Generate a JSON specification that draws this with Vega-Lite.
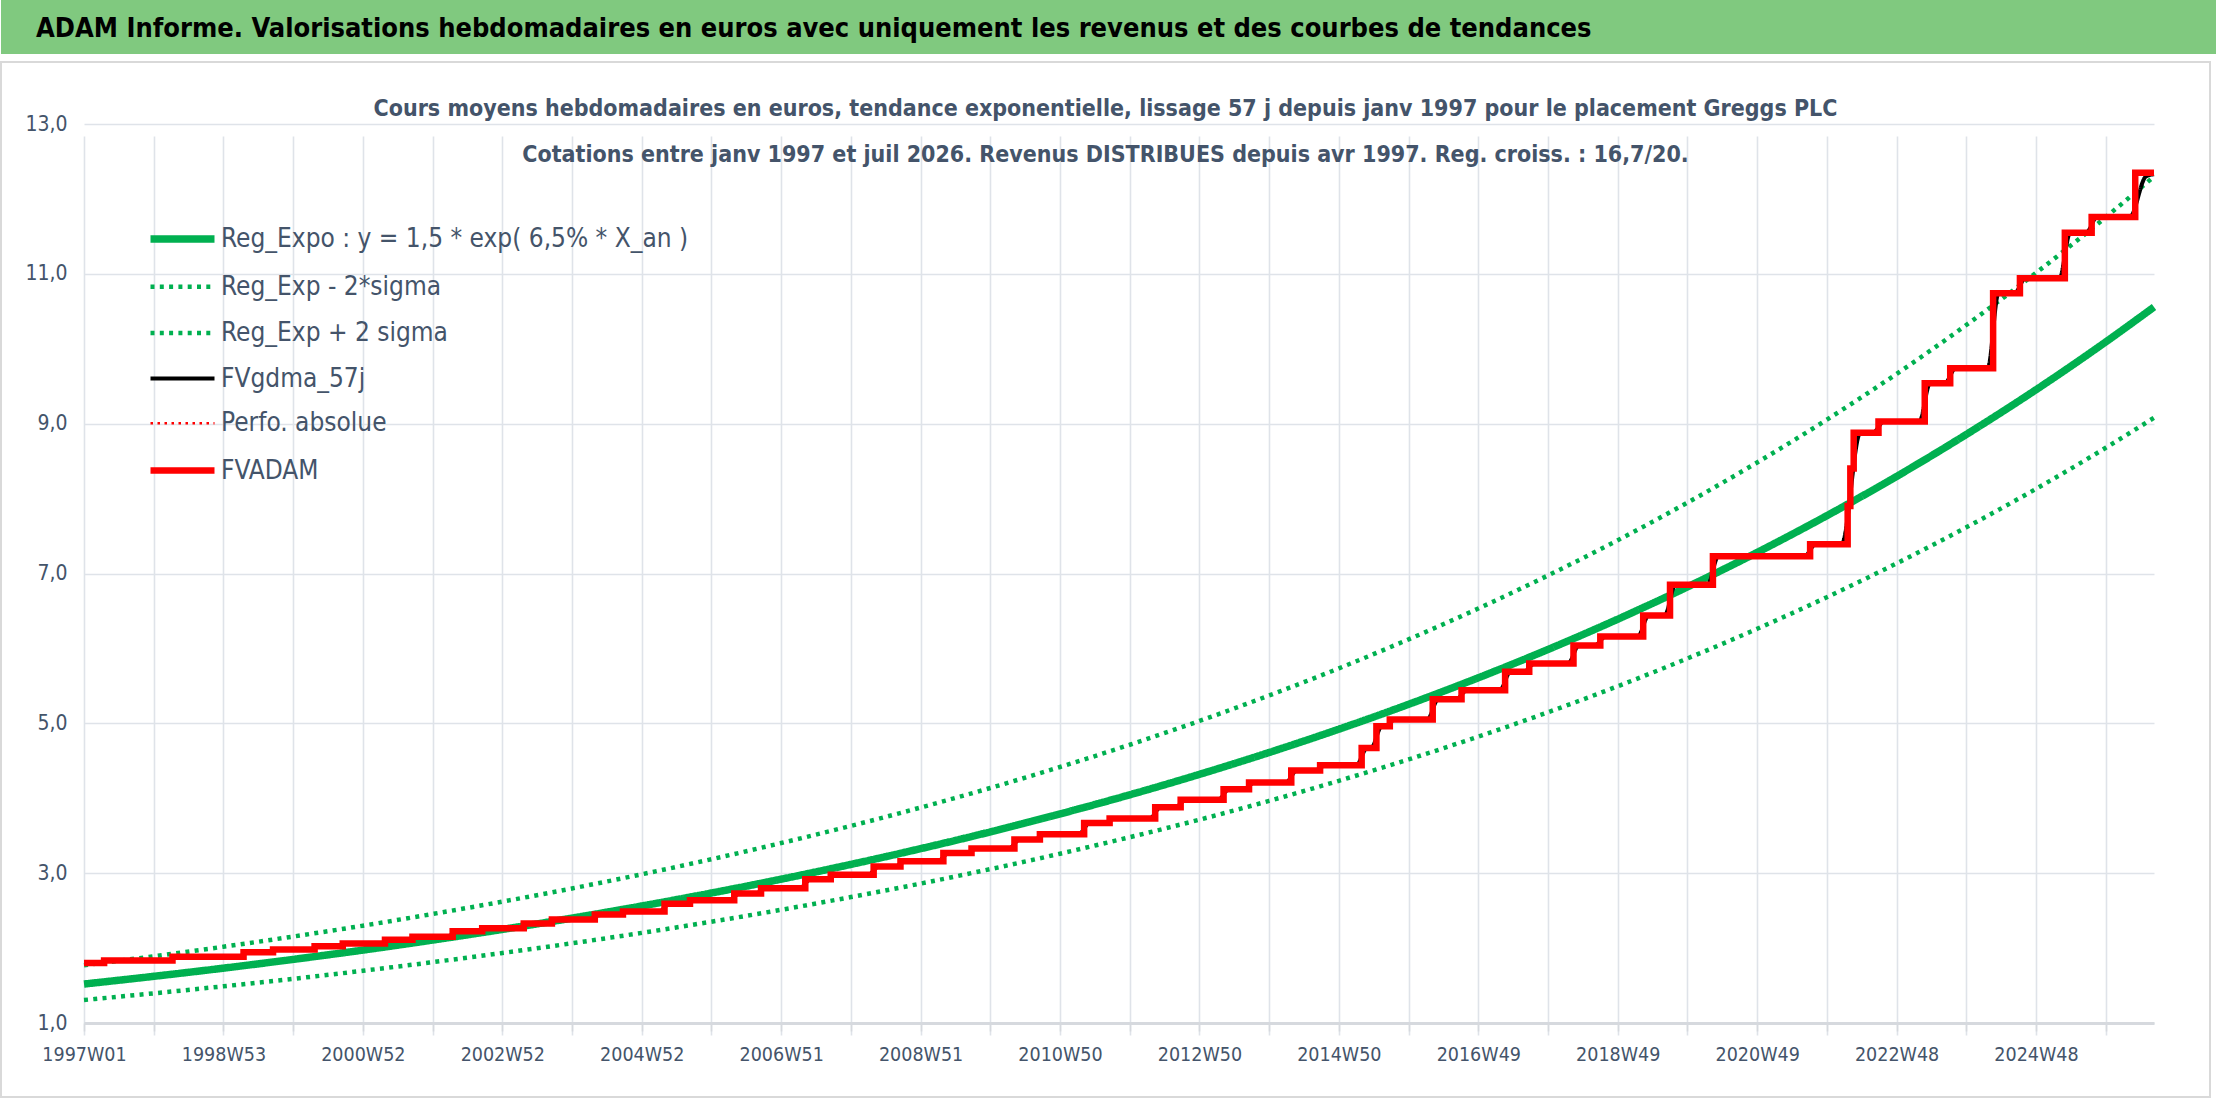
{
  "$schema": "https://vega.github.io/schema/vega-lite/v6.json",
  "background": "white",
  "padding": 0,
  "autosize": {"type": "pad"},
  "spacing": 8,
  "bounds": "flush",
  "config": {
    "font": "DejaVu Sans Condensed, Liberation Sans, sans-serif",
    "view": {"stroke": null},
    "legend": {"orient": "none", "legendX": 161.5, "legendY": 219, "title": null, "symbolType": "M-2,0L2,0", "symbolSize": 1024, "labelFontSize": 26, "labelColor": "#44546A", "labelOffset": 18.5, "rowPadding": 14.2, "labelLimit": 1000, "padding": 0}
  },
  "datasets": {
    "tendances": [
      {"serie": "Reg_Expo : y = 1,5 * exp( 6,5% *  X_an )", "w": 0, "v": 1.520},
      {"serie": "Reg_Expo : y = 1,5 * exp( 6,5% *  X_an )", "w": 52, "v": 1.623},
      {"serie": "Reg_Expo : y = 1,5 * exp( 6,5% *  X_an )", "w": 104, "v": 1.732},
      {"serie": "Reg_Expo : y = 1,5 * exp( 6,5% *  X_an )", "w": 156, "v": 1.849},
      {"serie": "Reg_Expo : y = 1,5 * exp( 6,5% *  X_an )", "w": 208, "v": 1.973},
      {"serie": "Reg_Expo : y = 1,5 * exp( 6,5% *  X_an )", "w": 260, "v": 2.107},
      {"serie": "Reg_Expo : y = 1,5 * exp( 6,5% *  X_an )", "w": 312, "v": 2.249},
      {"serie": "Reg_Expo : y = 1,5 * exp( 6,5% *  X_an )", "w": 364, "v": 2.400},
      {"serie": "Reg_Expo : y = 1,5 * exp( 6,5% *  X_an )", "w": 416, "v": 2.562},
      {"serie": "Reg_Expo : y = 1,5 * exp( 6,5% *  X_an )", "w": 468, "v": 2.735},
      {"serie": "Reg_Expo : y = 1,5 * exp( 6,5% *  X_an )", "w": 520, "v": 2.920},
      {"serie": "Reg_Expo : y = 1,5 * exp( 6,5% *  X_an )", "w": 572, "v": 3.117},
      {"serie": "Reg_Expo : y = 1,5 * exp( 6,5% *  X_an )", "w": 624, "v": 3.327},
      {"serie": "Reg_Expo : y = 1,5 * exp( 6,5% *  X_an )", "w": 676, "v": 3.551},
      {"serie": "Reg_Expo : y = 1,5 * exp( 6,5% *  X_an )", "w": 728, "v": 3.791},
      {"serie": "Reg_Expo : y = 1,5 * exp( 6,5% *  X_an )", "w": 780, "v": 4.046},
      {"serie": "Reg_Expo : y = 1,5 * exp( 6,5% *  X_an )", "w": 832, "v": 4.319},
      {"serie": "Reg_Expo : y = 1,5 * exp( 6,5% *  X_an )", "w": 884, "v": 4.611},
      {"serie": "Reg_Expo : y = 1,5 * exp( 6,5% *  X_an )", "w": 936, "v": 4.922},
      {"serie": "Reg_Expo : y = 1,5 * exp( 6,5% *  X_an )", "w": 988, "v": 5.254},
      {"serie": "Reg_Expo : y = 1,5 * exp( 6,5% *  X_an )", "w": 1040, "v": 5.608},
      {"serie": "Reg_Expo : y = 1,5 * exp( 6,5% *  X_an )", "w": 1092, "v": 5.986},
      {"serie": "Reg_Expo : y = 1,5 * exp( 6,5% *  X_an )", "w": 1144, "v": 6.390},
      {"serie": "Reg_Expo : y = 1,5 * exp( 6,5% *  X_an )", "w": 1196, "v": 6.821},
      {"serie": "Reg_Expo : y = 1,5 * exp( 6,5% *  X_an )", "w": 1248, "v": 7.281},
      {"serie": "Reg_Expo : y = 1,5 * exp( 6,5% *  X_an )", "w": 1300, "v": 7.772},
      {"serie": "Reg_Expo : y = 1,5 * exp( 6,5% *  X_an )", "w": 1352, "v": 8.296},
      {"serie": "Reg_Expo : y = 1,5 * exp( 6,5% *  X_an )", "w": 1404, "v": 8.856},
      {"serie": "Reg_Expo : y = 1,5 * exp( 6,5% *  X_an )", "w": 1456, "v": 9.453},
      {"serie": "Reg_Expo : y = 1,5 * exp( 6,5% *  X_an )", "w": 1508, "v": 10.091},
      {"serie": "Reg_Expo : y = 1,5 * exp( 6,5% *  X_an )", "w": 1544, "v": 10.557},
      {"serie": "Reg_Exp - 2*sigma", "w": 0, "v": 1.307},
      {"serie": "Reg_Exp - 2*sigma", "w": 52, "v": 1.396},
      {"serie": "Reg_Exp - 2*sigma", "w": 104, "v": 1.490},
      {"serie": "Reg_Exp - 2*sigma", "w": 156, "v": 1.590},
      {"serie": "Reg_Exp - 2*sigma", "w": 208, "v": 1.697},
      {"serie": "Reg_Exp - 2*sigma", "w": 260, "v": 1.812},
      {"serie": "Reg_Exp - 2*sigma", "w": 312, "v": 1.934},
      {"serie": "Reg_Exp - 2*sigma", "w": 364, "v": 2.064},
      {"serie": "Reg_Exp - 2*sigma", "w": 416, "v": 2.203},
      {"serie": "Reg_Exp - 2*sigma", "w": 468, "v": 2.352},
      {"serie": "Reg_Exp - 2*sigma", "w": 520, "v": 2.511},
      {"serie": "Reg_Exp - 2*sigma", "w": 572, "v": 2.681},
      {"serie": "Reg_Exp - 2*sigma", "w": 624, "v": 2.861},
      {"serie": "Reg_Exp - 2*sigma", "w": 676, "v": 3.054},
      {"serie": "Reg_Exp - 2*sigma", "w": 728, "v": 3.260},
      {"serie": "Reg_Exp - 2*sigma", "w": 780, "v": 3.480},
      {"serie": "Reg_Exp - 2*sigma", "w": 832, "v": 3.714},
      {"serie": "Reg_Exp - 2*sigma", "w": 884, "v": 3.965},
      {"serie": "Reg_Exp - 2*sigma", "w": 936, "v": 4.233},
      {"serie": "Reg_Exp - 2*sigma", "w": 988, "v": 4.518},
      {"serie": "Reg_Exp - 2*sigma", "w": 1040, "v": 4.823},
      {"serie": "Reg_Exp - 2*sigma", "w": 1092, "v": 5.148},
      {"serie": "Reg_Exp - 2*sigma", "w": 1144, "v": 5.495},
      {"serie": "Reg_Exp - 2*sigma", "w": 1196, "v": 5.866},
      {"serie": "Reg_Exp - 2*sigma", "w": 1248, "v": 6.262},
      {"serie": "Reg_Exp - 2*sigma", "w": 1300, "v": 6.684},
      {"serie": "Reg_Exp - 2*sigma", "w": 1352, "v": 7.135},
      {"serie": "Reg_Exp - 2*sigma", "w": 1404, "v": 7.616},
      {"serie": "Reg_Exp - 2*sigma", "w": 1456, "v": 8.130},
      {"serie": "Reg_Exp - 2*sigma", "w": 1508, "v": 8.678},
      {"serie": "Reg_Exp - 2*sigma", "w": 1544, "v": 9.079},
      {"serie": "Reg_Exp + 2 sigma", "w": 0, "v": 1.771},
      {"serie": "Reg_Exp + 2 sigma", "w": 52, "v": 1.891},
      {"serie": "Reg_Exp + 2 sigma", "w": 104, "v": 2.018},
      {"serie": "Reg_Exp + 2 sigma", "w": 156, "v": 2.154},
      {"serie": "Reg_Exp + 2 sigma", "w": 208, "v": 2.299},
      {"serie": "Reg_Exp + 2 sigma", "w": 260, "v": 2.455},
      {"serie": "Reg_Exp + 2 sigma", "w": 312, "v": 2.620},
      {"serie": "Reg_Exp + 2 sigma", "w": 364, "v": 2.796},
      {"serie": "Reg_Exp + 2 sigma", "w": 416, "v": 2.985},
      {"serie": "Reg_Exp + 2 sigma", "w": 468, "v": 3.186},
      {"serie": "Reg_Exp + 2 sigma", "w": 520, "v": 3.402},
      {"serie": "Reg_Exp + 2 sigma", "w": 572, "v": 3.631},
      {"serie": "Reg_Exp + 2 sigma", "w": 624, "v": 3.876},
      {"serie": "Reg_Exp + 2 sigma", "w": 676, "v": 4.137},
      {"serie": "Reg_Exp + 2 sigma", "w": 728, "v": 4.417},
      {"serie": "Reg_Exp + 2 sigma", "w": 780, "v": 4.714},
      {"serie": "Reg_Exp + 2 sigma", "w": 832, "v": 5.032},
      {"serie": "Reg_Exp + 2 sigma", "w": 884, "v": 5.372},
      {"serie": "Reg_Exp + 2 sigma", "w": 936, "v": 5.734},
      {"serie": "Reg_Exp + 2 sigma", "w": 988, "v": 6.121},
      {"serie": "Reg_Exp + 2 sigma", "w": 1040, "v": 6.533},
      {"serie": "Reg_Exp + 2 sigma", "w": 1092, "v": 6.974},
      {"serie": "Reg_Exp + 2 sigma", "w": 1144, "v": 7.444},
      {"serie": "Reg_Exp + 2 sigma", "w": 1196, "v": 7.946},
      {"serie": "Reg_Exp + 2 sigma", "w": 1248, "v": 8.482},
      {"serie": "Reg_Exp + 2 sigma", "w": 1300, "v": 9.054},
      {"serie": "Reg_Exp + 2 sigma", "w": 1352, "v": 9.665},
      {"serie": "Reg_Exp + 2 sigma", "w": 1404, "v": 10.317},
      {"serie": "Reg_Exp + 2 sigma", "w": 1456, "v": 11.013},
      {"serie": "Reg_Exp + 2 sigma", "w": 1508, "v": 11.756},
      {"serie": "Reg_Exp + 2 sigma", "w": 1544, "v": 12.299}
    ],
    "gdma": [
      {"serie": "FVgdma_57j", "w": 0, "v": 1.80}, {"serie": "FVgdma_57j", "w": 11, "v": 1.80}, {"serie": "FVgdma_57j", "w": 19, "v": 1.835},
      {"serie": "FVgdma_57j", "w": 62, "v": 1.835}, {"serie": "FVgdma_57j", "w": 70, "v": 1.885},
      {"serie": "FVgdma_57j", "w": 115, "v": 1.885}, {"serie": "FVgdma_57j", "w": 123, "v": 1.945},
      {"serie": "FVgdma_57j", "w": 137, "v": 1.945}, {"serie": "FVgdma_57j", "w": 145, "v": 1.98},
      {"serie": "FVgdma_57j", "w": 168, "v": 1.98}, {"serie": "FVgdma_57j", "w": 176, "v": 2.025},
      {"serie": "FVgdma_57j", "w": 189, "v": 2.025}, {"serie": "FVgdma_57j", "w": 197, "v": 2.06},
      {"serie": "FVgdma_57j", "w": 220.5, "v": 2.06}, {"serie": "FVgdma_57j", "w": 228.5, "v": 2.11},
      {"serie": "FVgdma_57j", "w": 241, "v": 2.11}, {"serie": "FVgdma_57j", "w": 249, "v": 2.15},
      {"serie": "FVgdma_57j", "w": 271, "v": 2.15}, {"serie": "FVgdma_57j", "w": 279, "v": 2.225},
      {"serie": "FVgdma_57j", "w": 293, "v": 2.225}, {"serie": "FVgdma_57j", "w": 301, "v": 2.265},
      {"serie": "FVgdma_57j", "w": 324, "v": 2.265}, {"serie": "FVgdma_57j", "w": 332, "v": 2.327},
      {"serie": "FVgdma_57j", "w": 345, "v": 2.327}, {"serie": "FVgdma_57j", "w": 353, "v": 2.38},
      {"serie": "FVgdma_57j", "w": 377, "v": 2.38}, {"serie": "FVgdma_57j", "w": 385, "v": 2.447},
      {"serie": "FVgdma_57j", "w": 398, "v": 2.447}, {"serie": "FVgdma_57j", "w": 406, "v": 2.487},
      {"serie": "FVgdma_57j", "w": 429, "v": 2.487}, {"serie": "FVgdma_57j", "w": 437, "v": 2.593},
      {"serie": "FVgdma_57j", "w": 448, "v": 2.593}, {"serie": "FVgdma_57j", "w": 456, "v": 2.64},
      {"serie": "FVgdma_57j", "w": 481, "v": 2.64}, {"serie": "FVgdma_57j", "w": 489, "v": 2.73},
      {"serie": "FVgdma_57j", "w": 501, "v": 2.73}, {"serie": "FVgdma_57j", "w": 509, "v": 2.80},
      {"serie": "FVgdma_57j", "w": 534, "v": 2.80}, {"serie": "FVgdma_57j", "w": 542, "v": 2.92},
      {"serie": "FVgdma_57j", "w": 553, "v": 2.92}, {"serie": "FVgdma_57j", "w": 561, "v": 2.98},
      {"serie": "FVgdma_57j", "w": 585, "v": 2.98}, {"serie": "FVgdma_57j", "w": 593, "v": 3.09},
      {"serie": "FVgdma_57j", "w": 605, "v": 3.09}, {"serie": "FVgdma_57j", "w": 613, "v": 3.16},
      {"serie": "FVgdma_57j", "w": 637, "v": 3.16}, {"serie": "FVgdma_57j", "w": 645, "v": 3.27},
      {"serie": "FVgdma_57j", "w": 658, "v": 3.27}, {"serie": "FVgdma_57j", "w": 666, "v": 3.33},
      {"serie": "FVgdma_57j", "w": 690, "v": 3.33}, {"serie": "FVgdma_57j", "w": 698, "v": 3.45},
      {"serie": "FVgdma_57j", "w": 709, "v": 3.45}, {"serie": "FVgdma_57j", "w": 717, "v": 3.52},
      {"serie": "FVgdma_57j", "w": 742, "v": 3.52}, {"serie": "FVgdma_57j", "w": 750, "v": 3.67},
      {"serie": "FVgdma_57j", "w": 761, "v": 3.67}, {"serie": "FVgdma_57j", "w": 769, "v": 3.73},
      {"serie": "FVgdma_57j", "w": 795, "v": 3.73}, {"serie": "FVgdma_57j", "w": 803, "v": 3.88},
      {"serie": "FVgdma_57j", "w": 814, "v": 3.88}, {"serie": "FVgdma_57j", "w": 822, "v": 3.98},
      {"serie": "FVgdma_57j", "w": 846, "v": 3.98}, {"serie": "FVgdma_57j", "w": 854, "v": 4.12},
      {"serie": "FVgdma_57j", "w": 865, "v": 4.12}, {"serie": "FVgdma_57j", "w": 873, "v": 4.21},
      {"serie": "FVgdma_57j", "w": 896.5, "v": 4.21}, {"serie": "FVgdma_57j", "w": 904.5, "v": 4.37},
      {"serie": "FVgdma_57j", "w": 918, "v": 4.37}, {"serie": "FVgdma_57j", "w": 926, "v": 4.44},
      {"serie": "FVgdma_57j", "w": 949, "v": 4.44}, {"serie": "FVgdma_57j", "w": 957, "v": 4.67},
      {"serie": "FVgdma_57j", "w": 960, "v": 4.67}, {"serie": "FVgdma_57j", "w": 968, "v": 4.96},
      {"serie": "FVgdma_57j", "w": 970, "v": 4.96}, {"serie": "FVgdma_57j", "w": 978, "v": 5.05},
      {"serie": "FVgdma_57j", "w": 1002, "v": 5.05}, {"serie": "FVgdma_57j", "w": 1010, "v": 5.32},
      {"serie": "FVgdma_57j", "w": 1023.5, "v": 5.32}, {"serie": "FVgdma_57j", "w": 1031.5, "v": 5.44},
      {"serie": "FVgdma_57j", "w": 1056, "v": 5.44}, {"serie": "FVgdma_57j", "w": 1064, "v": 5.69},
      {"serie": "FVgdma_57j", "w": 1074, "v": 5.69}, {"serie": "FVgdma_57j", "w": 1082, "v": 5.80},
      {"serie": "FVgdma_57j", "w": 1107, "v": 5.80}, {"serie": "FVgdma_57j", "w": 1115, "v": 6.04},
      {"serie": "FVgdma_57j", "w": 1127, "v": 6.04}, {"serie": "FVgdma_57j", "w": 1135, "v": 6.16},
      {"serie": "FVgdma_57j", "w": 1159, "v": 6.16}, {"serie": "FVgdma_57j", "w": 1167, "v": 6.44},
      {"serie": "FVgdma_57j", "w": 1179, "v": 6.44}, {"serie": "FVgdma_57j", "w": 1187, "v": 6.85},
      {"serie": "FVgdma_57j", "w": 1211, "v": 6.85}, {"serie": "FVgdma_57j", "w": 1219, "v": 7.23},
      {"serie": "FVgdma_57j", "w": 1283.5, "v": 7.23}, {"serie": "FVgdma_57j", "w": 1291.5, "v": 7.39},
      {"serie": "FVgdma_57j", "w": 1311, "v": 7.39}, {"serie": "FVgdma_57j", "w": 1325, "v": 8.88},
      {"serie": "FVgdma_57j", "w": 1334.5, "v": 8.88}, {"serie": "FVgdma_57j", "w": 1342.5, "v": 9.03},
      {"serie": "FVgdma_57j", "w": 1369, "v": 9.03}, {"serie": "FVgdma_57j", "w": 1377, "v": 9.54},
      {"serie": "FVgdma_57j", "w": 1388, "v": 9.54}, {"serie": "FVgdma_57j", "w": 1396, "v": 9.74},
      {"serie": "FVgdma_57j", "w": 1420, "v": 9.74}, {"serie": "FVgdma_57j", "w": 1428, "v": 10.74},
      {"serie": "FVgdma_57j", "w": 1440, "v": 10.74}, {"serie": "FVgdma_57j", "w": 1448, "v": 10.94},
      {"serie": "FVgdma_57j", "w": 1473.5, "v": 10.94}, {"serie": "FVgdma_57j", "w": 1481.5, "v": 11.55},
      {"serie": "FVgdma_57j", "w": 1493.5, "v": 11.55}, {"serie": "FVgdma_57j", "w": 1501.5, "v": 11.76},
      {"serie": "FVgdma_57j", "w": 1526, "v": 11.76}, {"serie": "FVgdma_57j", "w": 1538, "v": 12.3},
      {"serie": "FVgdma_57j", "w": 1544, "v": 12.33}
    ],
    "adam": [
      {"serie": "FVADAM", "w": 0, "v": 1.80}, {"serie": "FVADAM", "w": 15, "v": 1.835}, {"serie": "FVADAM", "w": 66, "v": 1.885},
      {"serie": "FVADAM", "w": 119, "v": 1.945}, {"serie": "FVADAM", "w": 141, "v": 1.98}, {"serie": "FVADAM", "w": 172, "v": 2.025},
      {"serie": "FVADAM", "w": 193, "v": 2.06}, {"serie": "FVADAM", "w": 224.5, "v": 2.11}, {"serie": "FVADAM", "w": 245, "v": 2.15},
      {"serie": "FVADAM", "w": 275, "v": 2.225}, {"serie": "FVADAM", "w": 297, "v": 2.265}, {"serie": "FVADAM", "w": 328, "v": 2.327},
      {"serie": "FVADAM", "w": 349, "v": 2.38}, {"serie": "FVADAM", "w": 381, "v": 2.447}, {"serie": "FVADAM", "w": 402, "v": 2.487},
      {"serie": "FVADAM", "w": 433, "v": 2.593}, {"serie": "FVADAM", "w": 452, "v": 2.64}, {"serie": "FVADAM", "w": 485, "v": 2.73},
      {"serie": "FVADAM", "w": 505, "v": 2.80}, {"serie": "FVADAM", "w": 538, "v": 2.92}, {"serie": "FVADAM", "w": 557, "v": 2.98},
      {"serie": "FVADAM", "w": 589, "v": 3.09}, {"serie": "FVADAM", "w": 609, "v": 3.16}, {"serie": "FVADAM", "w": 641, "v": 3.27},
      {"serie": "FVADAM", "w": 662, "v": 3.33}, {"serie": "FVADAM", "w": 694, "v": 3.45}, {"serie": "FVADAM", "w": 713, "v": 3.52},
      {"serie": "FVADAM", "w": 746, "v": 3.67}, {"serie": "FVADAM", "w": 765, "v": 3.73}, {"serie": "FVADAM", "w": 799, "v": 3.88},
      {"serie": "FVADAM", "w": 818, "v": 3.98}, {"serie": "FVADAM", "w": 850, "v": 4.12}, {"serie": "FVADAM", "w": 869, "v": 4.21},
      {"serie": "FVADAM", "w": 900.5, "v": 4.37}, {"serie": "FVADAM", "w": 922, "v": 4.44}, {"serie": "FVADAM", "w": 953, "v": 4.67},
      {"serie": "FVADAM", "w": 964, "v": 4.96}, {"serie": "FVADAM", "w": 974, "v": 5.05}, {"serie": "FVADAM", "w": 1006, "v": 5.32},
      {"serie": "FVADAM", "w": 1027.5, "v": 5.44}, {"serie": "FVADAM", "w": 1060, "v": 5.69}, {"serie": "FVADAM", "w": 1078, "v": 5.80},
      {"serie": "FVADAM", "w": 1111, "v": 6.04}, {"serie": "FVADAM", "w": 1131, "v": 6.16}, {"serie": "FVADAM", "w": 1163, "v": 6.44},
      {"serie": "FVADAM", "w": 1183, "v": 6.85}, {"serie": "FVADAM", "w": 1215, "v": 7.23}, {"serie": "FVADAM", "w": 1287.5, "v": 7.39},
      {"serie": "FVADAM", "w": 1315.5, "v": 7.9}, {"serie": "FVADAM", "w": 1317.5, "v": 8.4}, {"serie": "FVADAM", "w": 1320, "v": 8.88},
      {"serie": "FVADAM", "w": 1338.5, "v": 9.03}, {"serie": "FVADAM", "w": 1373, "v": 9.54}, {"serie": "FVADAM", "w": 1392, "v": 9.74},
      {"serie": "FVADAM", "w": 1424, "v": 10.74}, {"serie": "FVADAM", "w": 1444, "v": 10.94}, {"serie": "FVADAM", "w": 1477.5, "v": 11.55},
      {"serie": "FVADAM", "w": 1497.5, "v": 11.76}, {"serie": "FVADAM", "w": 1530, "v": 12.35}, {"serie": "FVADAM", "w": 1544, "v": 12.35}
    ]
  },
  "vconcat": [
    {
      "width": 2216,
      "height": 54,
      "view": {"fill": "#80C97F", "stroke": null},
      "data": {"values": [{"titre": "ADAM Informe. Valorisations hebdomadaires en euros avec uniquement les revenus et des courbes de tendances"}]},
      "mark": {"type": "text", "align": "left", "baseline": "middle", "dx": -1073, "dy": 2, "fontSize": 27, "fontWeight": "bold", "color": "#000000"},
      "encoding": {"text": {"field": "titre", "type": "nominal"}}
    },
    {
      "width": 2209,
      "height": 1035,
      "view": {"stroke": "#D9D9D9", "strokeWidth": 2},
      "title": {
        "text": ["Cours moyens hebdomadaires en euros, tendance exponentielle, lissage 57 j depuis janv 1997 pour le placement Greggs PLC", "Cotations entre janv 1997 et juil 2026. Revenus DISTRIBUES depuis avr 1997. Reg. croiss. : 16,7/20."],
        "anchor": "middle", "frame": "group", "fontSize": 23, "fontWeight": "bold", "color": "#44546A", "lineHeight": 46, "baseline": "middle", "offset": -116
      },
      "encoding": {
        "x": {
          "field": "w", "type": "quantitative",
          "scale": {"domain": [0, 1544], "range": [83, 2153], "nice": false, "zero": false},
          "axis": {
            "title": null,
            "values": [0, 52, 104, 156, 208, 260, 312, 364, 416, 468, 520, 572, 624, 676, 728, 780, 832, 884, 936, 988, 1040, 1092, 1144, 1196, 1248, 1300, 1352, 1404, 1456, 1508],
            "labelExpr": "datum.value % 104 == 0 ? ['1997W01','1998W53','2000W52','2002W52','2004W52','2006W51','2008W51','2010W50','2012W50','2014W50','2016W49','2018W49','2020W49','2022W48','2024W48'][datum.value / 104] : ''",
            "grid": true, "gridColor": "#DFE3E9", "gridWidth": 1.6,
            "domainColor": "#D6D9DE", "domainWidth": 3,
            "tickColor": "#D6D9DE", "tickWidth": 1.6, "tickSize": 8,
            "labelFontSize": 19.5, "labelColor": "#44546A", "labelPadding": 14,
            "labelFlush": false, "labelOverlap": false, "labelBound": false,
            "offset": -74
          }
        },
        "y": {
          "field": "v", "type": "quantitative",
          "scale": {"domain": [1, 13], "range": [961, 62], "nice": false, "zero": false},
          "axis": {
            "title": null,
            "values": [1, 3, 5, 7, 9, 11, 13],
            "labelExpr": "replace(format(datum.value, '.1f'), '.', ',')",
            "grid": true, "gridColor": "#DFE3E9", "gridWidth": 1.6,
            "domain": false, "ticks": false, "tickSize": 0,
            "labelFontSize": 21, "labelColor": "#44546A", "labelPadding": 17,
            "offset": -83
          }
        },
        "color": {
          "field": "serie", "type": "nominal",
          "scale": {
            "domain": ["Reg_Expo : y = 1,5 * exp( 6,5% *  X_an )", "Reg_Exp - 2*sigma", "Reg_Exp + 2 sigma", "FVgdma_57j", "Perfo. absolue", "FVADAM"],
            "range": ["#00B050", "#00B050", "#00B050", "#000000", "#FF0000", "#FF0000"]
          },
          "legend": {"orient": "none", "legendX": 161.5, "legendY": 219, "title": null, "symbolType": "M-2,0L2,0", "symbolSize": 1024, "labelFontSize": 26, "labelColor": "#44546A", "labelOffset": 18.5, "rowPadding": 14.2, "labelLimit": 1000, "padding": 0}
        },
        "strokeDash": {
          "field": "serie", "type": "nominal",
          "scale": {
            "domain": ["Reg_Expo : y = 1,5 * exp( 6,5% *  X_an )", "Reg_Exp - 2*sigma", "Reg_Exp + 2 sigma", "FVgdma_57j", "Perfo. absolue", "FVADAM"],
            "range": [[1, 0], [4, 5.3], [4, 5.3], [1, 0], [2.5, 4.5], [1, 0]]
          }
        },
        "strokeWidth": {
          "field": "serie", "type": "nominal",
          "scale": {
            "type": "ordinal",
            "domain": ["Reg_Expo : y = 1,5 * exp( 6,5% *  X_an )", "Reg_Exp - 2*sigma", "Reg_Exp + 2 sigma", "FVgdma_57j", "Perfo. absolue", "FVADAM"],
            "range": [7.5, 4.5, 4.5, 4, 2.5, 6.5]
          }
        }
      },
      "layer": [
        {"data": {"name": "tendances"}, "mark": {"type": "line", "interpolate": "monotone"}},
        {"data": {"name": "gdma"}, "mark": {"type": "line", "interpolate": "monotone"}},
        {"data": {"name": "adam"}, "mark": {"type": "line", "interpolate": "step-after"}}
      ]
    }
  ]
}
